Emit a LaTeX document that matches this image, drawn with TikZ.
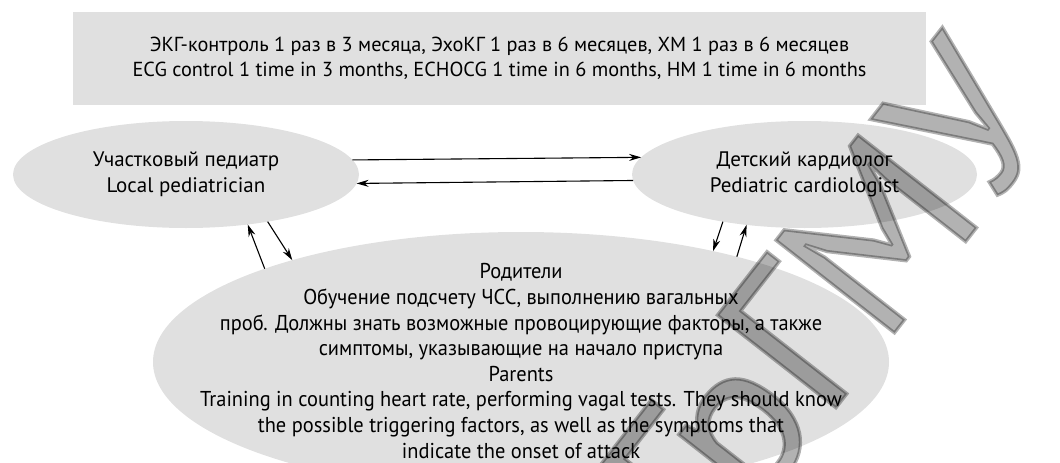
\documentclass[tikz,border=0pt]{standalone}
\usepackage{fontspec}
\setmainfont{PT Sans}
\newfontfamily\narrowfont[FakeStretch=0.95]{PT Sans}
\newfontfamily\markfont[FakeBold=1.5]{PT Sans}
\usetikzlibrary{arrows.meta,shapes}
\definecolor{cardgray}{RGB}{224,224,224}

\begin{document}
\begin{tikzpicture}[x=1pt,y=-1pt,->,>={Stealth[length=12pt,width=7pt]},line width=1.1pt,
    oval/.style={shape=ellipse,fill=cardgray,inner sep=0pt,outer sep=0pt,align=center,font=\fontsize{21}{26}\selectfont}]
                \useasboundingbox (0,0) rectangle (1060,463);
                \node[shape=rectangle,fill=cardgray,minimum width=853pt,minimum height=93pt,align=center,font=\fontsize{20.3}{25}\selectfont](ctrl)at(499.5, 58.5){ЭКГ-контроль 1 раз в 3 месяца, ЭхоКГ 1 раз в 6 месяцев, ХМ 1 раз в 6 месяцев\\ECG control 1 time in 3 months, ECHOCG 1 time in 6 months, HM 1 time in 6 months};
                \node[oval,minimum width=346pt,minimum height=107pt](lp)at(186, 174.5){Участковый педиатр\\Local pediatrician};
                \node[oval,minimum width=345pt,minimum height=107pt](rp)at(804.5, 174.5){Детский кардиолог\\Pediatric cardiologist};
                \node[oval,minimum width=736pt,minimum height=260pt](pp)at(521, 362){};
                \node[align=center,inner sep=0pt,font=\narrowfont\fontsize{21.5}{25.6}\selectfont](parents)at(521, 361){Родители\\Обучение подсчету ЧСС, выполнению вагальных\\проб. Должны знать возможные провоцирующие факторы, а также\\симптомы, указывающие на начало приступа\\Parents\\Training in counting heart rate, performing vagal tests. They should know\\the possible triggering factors, as well as the symptoms that\\indicate the onset of attack};
                \path (lp.5.4) edge (rp.174.6)
                (rp.182.2) edge (lp.357.8)
                (pp.160.1) edge (lp.321.6)
                (lp.330.9) edge (pp.156.9)
                (rp.210) edge (pp.30.1)
                (pp.26.3) edge (rp.221.1);
                \node[rotate=52,anchor=base,opacity=0.3,font=\markfont\fontsize{215}{215}\selectfont](mark)at(885, 345){ГрГМУ};
            \end{tikzpicture}
\end{document}
